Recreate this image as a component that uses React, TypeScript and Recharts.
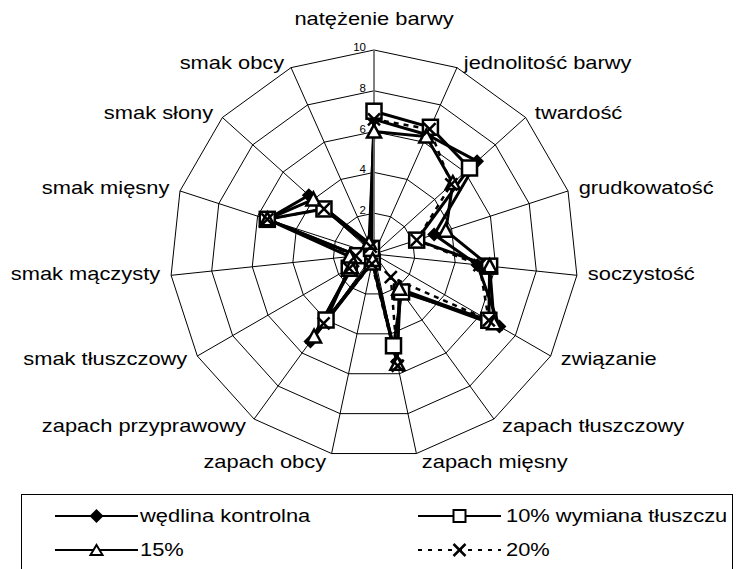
import React from 'react';
import { RadarChart, Radar, PolarGrid, PolarAngleAxis, PolarRadiusAxis, Legend } from 'recharts';

const categories = [
  'natężenie barwy',
  'jednolitość barwy',
  'twardość',
  'grudkowatość',
  'soczystość',
  'związanie',
  'zapach tłuszczowy',
  'zapach mięsny',
  'zapach obcy',
  'zapach przyprawowy',
  'smak tłuszczowy',
  'smak mączysty',
  'smak mięsny',
  'smak słony',
  'smak obcy',
];

const kontrolna = [6.6, 6.4, 6.8, 3.1, 5.1, 7.1, 2.2, 5.4, 0.4, 5.3, 1.2, 0.8, 5.5, 4.3, 0.5];
const wymiana10 = [7.0, 6.8, 6.3, 2.2, 5.7, 6.5, 2.3, 4.6, 0.4, 4.0, 1.4, 0.8, 5.5, 3.3, 0.3];
const wymiana15 = [6.0, 6.3, 5.2, 3.7, 5.7, 6.8, 2.1, 5.5, 0.3, 5.0, 1.3, 1.2, 5.5, 4.0, 0.6];
const wymiana20 = [6.6, 6.7, 5.1, 2.2, 5.2, 6.5, 1.4, 5.6, 0.5, 4.2, 1.4, 0.9, 5.5, 3.3, 0.4];

const radiusTicks = [0, 2, 4, 6, 8, 10];

const seriesNames = ['wędlina kontrolna', '10% wymiana tłuszczu', '15%', '20%'];

const data = categories.map((name, i) => ({
  name,
  kontrolna: kontrolna[i],
  w10: wymiana10[i],
  w15: wymiana15[i],
  w20: wymiana20[i],
}));

const CX = 374;
const CY = 254;
const R = 204;
const FONT = '"Liberation Sans", Arial, sans-serif';
const TEXT_SIZE = 17.5;
const STRETCH = 1.25; // the source renders its Arial noticeably wider

const DiamondDot = ({ cx, cy, r = 7 }: any) => (
  <polygon points={`${cx},${cy - r} ${cx + r},${cy} ${cx},${cy + r} ${cx - r},${cy}`} fill="#000" />
);
const SquareDot = ({ cx, cy }: any) => (
  <rect x={cx - 7.5} y={cy - 7.5} width={15} height={15} fill="#fff" stroke="#000" strokeWidth={2.5} />
);
const TriangleDot = ({ cx, cy }: any) => (
  <polygon points={`${cx},${cy - 7} ${cx + 7},${cy + 6} ${cx - 7},${cy + 6}`} fill="#fff" stroke="#000" strokeWidth={2.5} />
);
const CrossDot = ({ cx, cy, r = 6 }: any) => (
  <g stroke="#000" strokeWidth={2.5}>
    <line x1={cx - r} y1={cy - r} x2={cx + r} y2={cy + r} />
    <line x1={cx - r} y1={cy + r} x2={cx + r} y2={cy - r} />
  </g>
);

const dotFn = (Comp: any) => (p: any) => <Comp key={`d-${p.index}`} cx={p.cx} cy={p.cy} />;

// category labels placed just outside the outer ring, like the Excel radar
const AngleTick = (props: any) => {
  const { payload } = props;
  const idx = categories.indexOf(payload.value);
  const theta = ((idx * 360) / categories.length) * Math.PI / 180;
  const s = Math.sin(theta);
  const c = Math.cos(theta);
  let x = CX + R * s;
  let y = CY - R * c - 3 - 2 * c + (c < 0 ? -10 * c : 0);
  let anchor = 'middle';
  const gap = 4 + 7 * Math.abs(s);
  if (s > 0.1) {
    anchor = 'start';
    x += gap;
  } else if (s < -0.1) {
    anchor = 'end';
    x -= gap;
  }
  if (Math.abs(s) < 0.1 && c > 0) y = CY - R - 31;
  return (
    <text
      transform={`translate(${x},${y}) scale(${STRETCH},1)`}
      x={0}
      y={0}
      textAnchor={anchor}
      dominantBaseline="central"
      fontSize={TEXT_SIZE}
      fontFamily={FONT}
      fill="#000"
    >
      {payload.value}
    </text>
  );
};

const RadiusTick = (props: any) => {
  const { x, y, payload } = props;
  if (payload.value === 0) return null;
  return (
    <text x={x - 8} y={y - 3} textAnchor="end" dominantBaseline="central" fontSize={11.5} fontFamily={FONT} fill="#000">
      {payload.value}
    </text>
  );
};

const LegendIcon = ({ i, len }: { i: number; len: number }) => {
  const m = len / 2;
  return (
    <svg width={len} height={24} style={{ display: 'block' }}>
      <line x1={0} y1={12} x2={len} y2={12} stroke="#000" strokeWidth={2} strokeDasharray={i === 3 ? '4 6' : undefined} />
      {i === 0 ? <DiamondDot cx={m} cy={12} r={7} /> : null}
      {i === 1 ? <rect x={m - 6} y={6} width={12} height={12} fill="#fff" stroke="#000" strokeWidth={2} /> : null}
      {i === 2 ? <polygon points={`${m},${7} ${m + 6},${17} ${m - 6},${17}`} fill="#fff" stroke="#000" strokeWidth={2} /> : null}
      {i === 3 ? <CrossDot cx={m} cy={12} r={6} /> : null}
    </svg>
  );
};

const LegendBox = () => (
  <div
    style={{
      position: 'relative',
      width: 712,
      height: 90,
      border: '1px solid #000',
      boxSizing: 'border-box',
      fontFamily: FONT,
      fontSize: TEXT_SIZE,
      color: '#000',
      background: '#fff',
    }}
  >
    {seriesNames.map((name, i) => {
      const col = i % 2;
      const row = Math.floor(i / 2);
      const left = col === 0 ? 33 : 396;
      return (
        <div key={name} style={{ position: 'absolute', left, top: 9 + row * 34, height: 24, display: 'flex', alignItems: 'center' }}>
          <LegendIcon i={i} len={83} />
          <span
            style={{
              display: 'inline-block',
              marginLeft: col === 0 ? 2 : 5,
              transform: `scaleX(${STRETCH})`,
              transformOrigin: 'left center',
              whiteSpace: 'nowrap',
            }}
          >
            {name}
          </span>
        </div>
      );
    })}
  </div>
);

export default function App() {
  return (
    <div style={{ position: 'absolute', left: 0, top: 0, width: 739, height: 569, background: '#fff', overflow: 'hidden' }}>
      <RadarChart width={739} height={569} data={data} cx={CX} cy={CY} outerRadius={R} margin={{ top: 0, right: 0, bottom: 0, left: 0 }}>
        <PolarGrid gridType="polygon" stroke="#000" strokeWidth={1} />
        <PolarAngleAxis dataKey="name" tick={<AngleTick />} tickLine={false} axisLine={false} />
        <PolarRadiusAxis
          angle={90}
          domain={[0, 10]}
          ticks={radiusTicks}
          tick={<RadiusTick />}
          tickLine={false}
          axisLine={{ stroke: '#808080', strokeWidth: 1.5 }}
          orientation="left"
        />
        <Radar dataKey="kontrolna" name={seriesNames[0]} stroke="#000" strokeWidth={3} fill="none" fillOpacity={0}
          dot={dotFn(DiamondDot)} isAnimationActive={false} />
        <Radar dataKey="w10" name={seriesNames[1]} stroke="#000" strokeWidth={3} fill="none" fillOpacity={0}
          dot={dotFn(SquareDot)} isAnimationActive={false} />
        <Radar dataKey="w15" name={seriesNames[2]} stroke="#000" strokeWidth={3} fill="none" fillOpacity={0}
          dot={dotFn(TriangleDot)} isAnimationActive={false} />
        <Radar dataKey="w20" name={seriesNames[3]} stroke="#000" strokeWidth={2.5} strokeDasharray="5 5" fill="none" fillOpacity={0}
          dot={dotFn(CrossDot)} isAnimationActive={false} />
        <Legend content={<LegendBox />} wrapperStyle={{ position: 'absolute', left: 21, top: 494, width: 712 }} />
      </RadarChart>
    </div>
  );
}
